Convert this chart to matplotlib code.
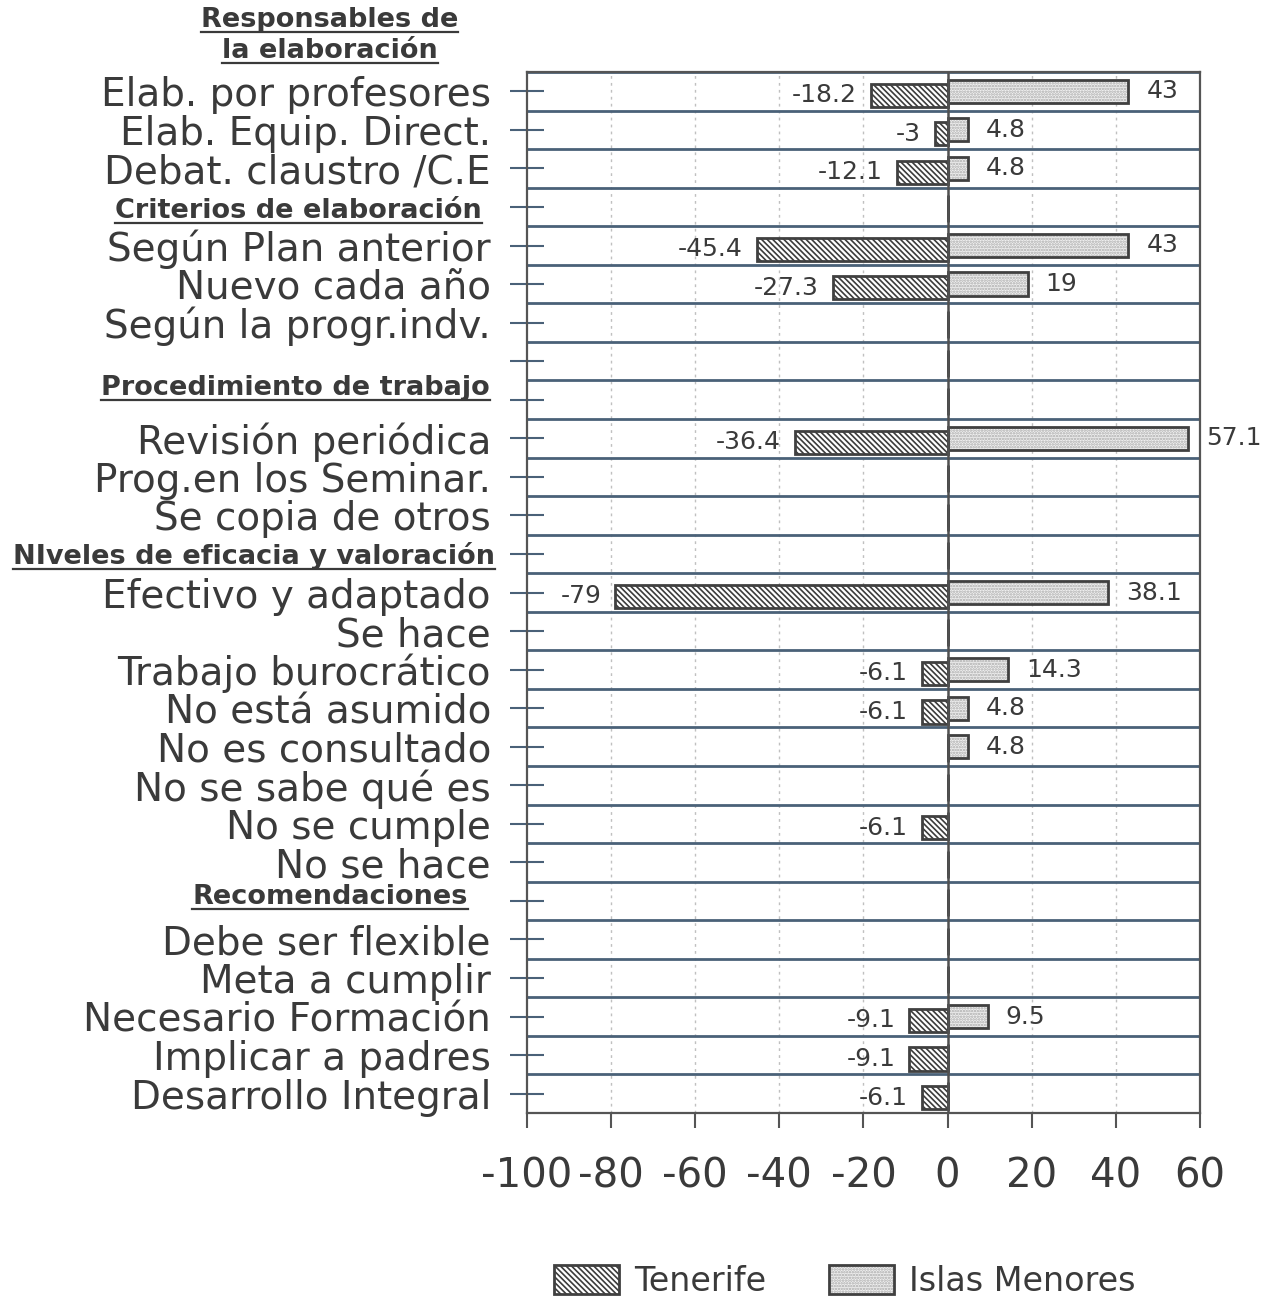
import numpy as np
import matplotlib
matplotlib.use("Agg")
import matplotlib.pyplot as plt
from matplotlib.patches import Patch
from matplotlib.lines import Line2D
from matplotlib.legend_handler import HandlerTuple

plt.rcParams['font.family'] = ['DejaVu Sans']
plt.rcParams['axes.unicode_minus'] = False
plt.rcParams['hatch.linewidth'] = 1.2

# rows of the chart, top to bottom ("" = blank row)
labels = ["Elab. por profesores", "Elab. Equip. Direct.", "Debat. claustro /C.E",
          "Criterios de elaboración",
          "Según Plan anterior", "Nuevo cada año", "Según la progr.indv.", "",
          "Procedimiento de trabajo",
          "Revisión periódica", "Prog.en los Seminar.", "Se copia de otros",
          "NIveles de eficacia y valoración",
          "Efectivo y adaptado", "Se hace", "Trabajo burocrático", "No está asumido",
          "No es consultado", "No se sabe qué es", "No se cumple", "No se hace",
          "Recomendaciones",
          "Debe ser flexible", "Meta a cumplir", "Necesario Formación",
          "Implicar a padres", "Desarrollo Integral"]
headers = ["Criterios de elaboración", "Procedimiento de trabajo",
           "NIveles de eficacia y valoración", "Recomendaciones"]
top_header = ["Responsables de", "la elaboración"]

nan = np.nan
tenerife = [-18.2, -3, -12.1, nan, -45.4, -27.3, nan, nan, nan, -36.4, nan, nan, nan,
            -79, nan, -6.1, -6.1, nan, nan, -6.1, nan, nan, nan, nan, -9.1, -9.1, -6.1]
islas = [43, 4.8, 4.8, nan, 43, 19, nan, nan, nan, 57.1, nan, nan, nan,
         38.1, nan, 14.3, 4.8, 4.8, nan, nan, nan, nan, nan, nan, 9.5, nan, nan]
xticks = [-100, -80, -60, -40, -20, 0, 20, 40, 60]

txt = '#3a3a3a'
edge = '#404040'
rowline = '#4a6178'
ten_hatch = '\\\\\\\\\\\\'
isl_hatch = '......'

fig = plt.figure(figsize=(12.77, 13.02), dpi=100)
ax = fig.add_axes([527/1277, 1 - 1113/1302, 673/1277, 1041/1302])

n = len(labels)
y = np.arange(n)
t = np.array(tenerife, dtype=float)
s = np.array(islas, dtype=float)
h = 0.6

# Tenerife: hatched bars, Islas Menores: light dotted bars
ax.barh(y + 0.1, np.nan_to_num(t), height=h, color='white', edgecolor='#3c3c3c',
        hatch=ten_hatch, linewidth=0, zorder=3)
ax.barh(y + 0.1, np.nan_to_num(t), height=h, fill=False, edgecolor=edge,
        linewidth=2, zorder=4)
ax.barh(y, np.nan_to_num(s), height=h, color='#f0f0f0', edgecolor='#aaaaaa',
        hatch=isl_hatch, linewidth=0, zorder=3)
ax.barh(y, np.nan_to_num(s), height=h, fill=False, edgecolor=edge,
        linewidth=2, zorder=4)

for i in range(n):
    if not np.isnan(t[i]):
        ax.annotate(f"{t[i]:g}", (t[i], y[i] + 0.1), xytext=(-10, 0),
                    textcoords='offset points', ha='right', va='center',
                    fontsize=18, color=txt, zorder=5)
    if not np.isnan(s[i]):
        ax.annotate(f"{s[i]:g}", (s[i], y[i]), xytext=(13, 0),
                    textcoords='offset points', ha='left', va='center',
                    fontsize=18, color=txt, zorder=5)

ax.set_xlim(-100, 60)
ax.set_ylim(n - 0.5, -0.5)
ax.set_xticks(xticks)
ax.set_xticklabels([str(v) for v in xticks], fontsize=29, color=txt)
ax.set_yticks(y)
ax.set_yticklabels([l if l not in headers else "" for l in labels],
                   fontsize=28, color=txt)
ax.tick_params(axis='y', direction='inout', length=24, width=1.5,
               color=rowline, pad=14)
ax.tick_params(axis='x', direction='out', length=11, width=1.5,
               color='#555555', pad=20)

# row separators, dashed verticals and zero line
for b in np.arange(-0.5, n, 1.0):
    ax.axhline(b, color=rowline, lw=2, zorder=2)
for v in xticks[1:-1]:
    if v != 0:
        ax.axvline(v, color='#c0c0c0', lw=1, ls=(0, (2, 3)), zorder=1)
ax.axvline(0, color='#505050', lw=1.8, zorder=5)
for sp in ax.spines.values():
    sp.set_color('#555555')
    sp.set_linewidth(1.6)

# section headers
yt = ax.get_yaxis_transform()
head_texts = []
head_pos = {"Criterios de elaboración": (-0.067, 0.1),
            "Procedimiento de trabajo": (-0.055, -0.3),
            "NIveles de eficacia y valoración": (-0.047, 0.05),
            "Recomendaciones": (-0.088, -0.1)}
for name in headers:
    xo, dy = head_pos[name]
    r = labels.index(name)
    head_texts.append(ax.text(xo, r + dy, name, transform=yt, ha='right', va='center',
                              fontsize=19.5, fontweight='bold', color=txt, clip_on=False))
for k, line in enumerate(top_header):
    head_texts.append(ax.text(-0.293, -1.85 + 0.8 * k, line, transform=yt,
                              ha='center', va='center', fontsize=19.5,
                              fontweight='bold', color=txt, clip_on=False))

# legend
ten_patch = (Patch(facecolor='white', edgecolor='#3c3c3c', hatch=ten_hatch, lw=0),
             Patch(fill=False, edgecolor=edge, lw=2))
isl_patch = (Patch(facecolor='#f0f0f0', edgecolor='#aaaaaa', hatch=isl_hatch, lw=0),
             Patch(fill=False, edgecolor=edge, lw=2))
fig.legend([ten_patch, isl_patch], ["Tenerife", "Islas Menores"],
           handler_map={tuple: HandlerTuple(ndivide=1)},
           loc='center', bbox_to_anchor=(845/1277, 0.016), ncol=2, frameon=False,
           fontsize=24, handlelength=1.95, handleheight=1.0, handletextpad=0.45,
           columnspacing=1.9, labelcolor=txt)

# underline the headers
fig.canvas.draw()
renderer = fig.canvas.get_renderer()
inv = fig.transFigure.inverted()
for ht in head_texts:
    bb = ht.get_window_extent(renderer)
    (x0, y0), (x1, _) = inv.transform([(bb.x0, bb.y0 + 1), (bb.x1, bb.y0 + 1)])
    fig.add_artist(Line2D([x0, x1], [y0, y0], transform=fig.transFigure,
                          color=txt, lw=1.6))

fig.savefig("out.png", dpi=100)
